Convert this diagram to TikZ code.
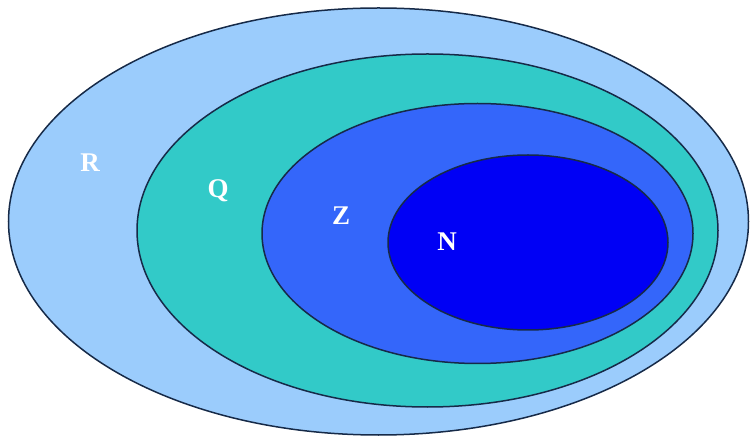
\documentclass[tikz,border=0pt]{standalone}
\usepackage{fontspec}
\setmainfont{Liberation Serif}
\usetikzlibrary{shapes.geometric}
\definecolor{setR}{RGB}{155,204,252}
\definecolor{setQ}{RGB}{50,202,200}
\definecolor{setZ}{RGB}{52,102,250}
\definecolor{setN}{RGB}{0,0,245}
\definecolor{rim}{RGB}{22,42,72}
\begin{document}
\begin{tikzpicture}[x=1pt, y=-1pt,
  set/.style={ellipse, draw=rim, line width=1.5pt, inner sep=0pt, outer sep=0pt},
  lbl/.style={text=white, font=\fontsize{27}{27}\selectfont\bfseries, inner sep=0pt}]
\useasboundingbox (0,0) rectangle (752,443);
\foreach \n/\cx/\cy/\w/\h in {R/378.5/221.5/740/427, Q/427.5/230.5/581/353, Z/477.5/233.5/431/260, N/528/242.5/280/175} {
  \node[set, fill=set\n, minimum width=\w pt, minimum height=\h pt] (\n) at (\cx,\cy) {};
}
\node[lbl] (lR) at (90,163) {R};
\node[lbl] (lQ) at (218,191) {Q};
\node[lbl] (lZ) at (341,216) {Z};
\node[lbl] (lN) at (447,242) {N};
\end{tikzpicture}
\end{document}
